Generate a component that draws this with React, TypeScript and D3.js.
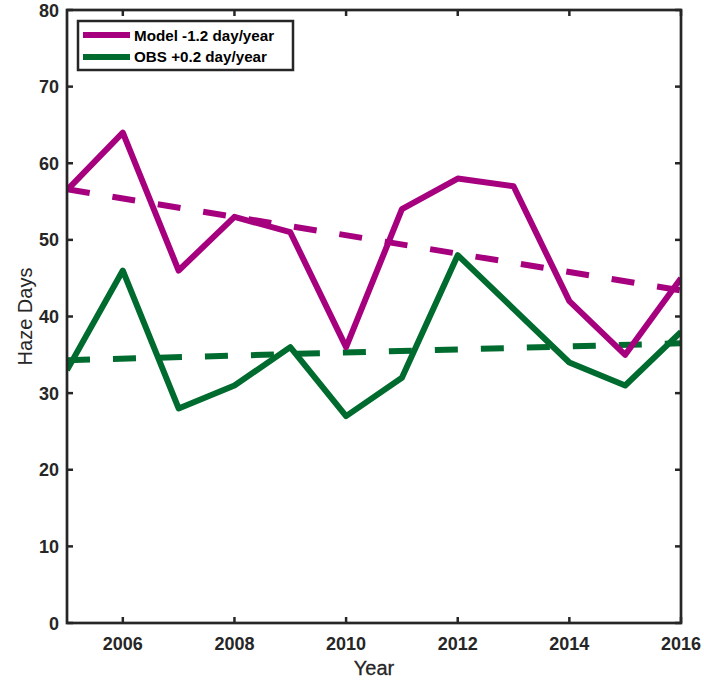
import React from "react";
import * as d3 from "d3";

const years = [2005, 2006, 2007, 2008, 2009, 2010, 2011, 2012, 2013, 2014, 2015, 2016];
const modelValues = [56.5, 64, 46, 53, 51, 36, 54, 58, 57, 42, 35, 45];
const obsValues = [33, 46, 28, 31, 36, 27, 32, 48, 41, 34, 31, 38];
const trendYears = [2005, 2016];
const modelTrend = [56.6, 43.4];
const obsTrend = [34.3, 36.5];
const xTicks = [2006, 2008, 2010, 2012, 2014, 2016];
const yTicks = [0, 10, 20, 30, 40, 50, 60, 70, 80];
const legendLabels = ["Model -1.2 day/year", "OBS +0.2 day/year"];

const MAGENTA = "#A6007F";
const GREEN = "#006B2E";
const AXIS = "#262626";

export default function App() {
  const W = 704, H = 684;
  const left = 67, right = 681, top = 10, bottom = 623;
  const x = d3.scaleLinear().domain([2005, 2016]).range([left, right]);
  const y = d3.scaleLinear().domain([0, 80]).range([bottom, top]);
  const line = d3.line<number>().x((_, i) => x(years[i])).y((d) => y(d));
  const tline = d3.line<number>().x((_, i) => x(trendYears[i])).y((d) => y(d));
  const font = "Liberation Sans, Arial, sans-serif";
  const tickLen = 6;
  return (
    <svg width={W} height={H} style={{ position: "absolute", left: 0, top: 0 }}>
      <rect width={W} height={H} fill="#fff" />
      <defs>
        <clipPath id="clip">
          <rect x={left} y={top} width={right - left} height={bottom - top} />
        </clipPath>
      </defs>
      <g clipPath="url(#clip)">
        <path d={tline(modelTrend) || ""} fill="none" stroke={MAGENTA} strokeWidth={6} strokeDasharray="23 23" />
        <path d={tline(obsTrend) || ""} fill="none" stroke={GREEN} strokeWidth={6} strokeDasharray="23 23" />
        <path d={line(modelValues) || ""} fill="none" stroke={MAGENTA} strokeWidth={6} strokeLinejoin="round" />
        <path d={line(obsValues) || ""} fill="none" stroke={GREEN} strokeWidth={6} strokeLinejoin="round" />
      </g>
      {xTicks.map((t) => (
        <g key={"x" + t}>
          <line x1={x(t)} x2={x(t)} y1={bottom} y2={bottom - tickLen} stroke={AXIS} strokeWidth={2.5} />
          <line x1={x(t)} x2={x(t)} y1={top} y2={top + tickLen} stroke={AXIS} strokeWidth={2.5} />
          <text x={x(t)} y={650} textAnchor="middle" fontFamily={font} fontWeight="bold" fontSize={18} fill={AXIS}>
            {t}
          </text>
        </g>
      ))}
      {yTicks.map((t) => (
        <g key={"y" + t}>
          <line x1={left} x2={left + tickLen} y1={y(t)} y2={y(t)} stroke={AXIS} strokeWidth={2.5} />
          <line x1={right} x2={right - tickLen} y1={y(t)} y2={y(t)} stroke={AXIS} strokeWidth={2.5} />
          <text x={left - 8} y={y(t) + 6.5} textAnchor="end" fontFamily={font} fontWeight="bold" fontSize={18} fill={AXIS}>
            {t}
          </text>
        </g>
      ))}
      <rect x={left} y={top} width={right - left} height={bottom - top} fill="none" stroke={AXIS} strokeWidth={2.7} />
      <text x={(left + right) / 2} y={675} textAnchor="middle" fontFamily={font} fontSize={20} fill={AXIS} stroke={AXIS} strokeWidth={0.3}>
        Year
      </text>
      <text
        transform={`translate(${32},${(top + bottom) / 2}) rotate(-90)`}
        textAnchor="middle"
        fontFamily={font}
        fontSize={20}
        fill={AXIS}
      >
        Haze Days
      </text>
      <rect x={78} y={21} width={215} height={49} fill="#fff" stroke={AXIS} strokeWidth={2.5} />
      {legendLabels.map((lab, i) => (
        <g key={lab}>
          <line x1={83} x2={130} y1={35 + i * 22} y2={35 + i * 22} stroke={i === 0 ? MAGENTA : GREEN} strokeWidth={6} />
          <text x={134} y={40.5 + i * 21.5} fontFamily={font} fontWeight="bold" fontSize={15.2} fill="#000">
            {lab}
          </text>
        </g>
      ))}
    </svg>
  );
}
